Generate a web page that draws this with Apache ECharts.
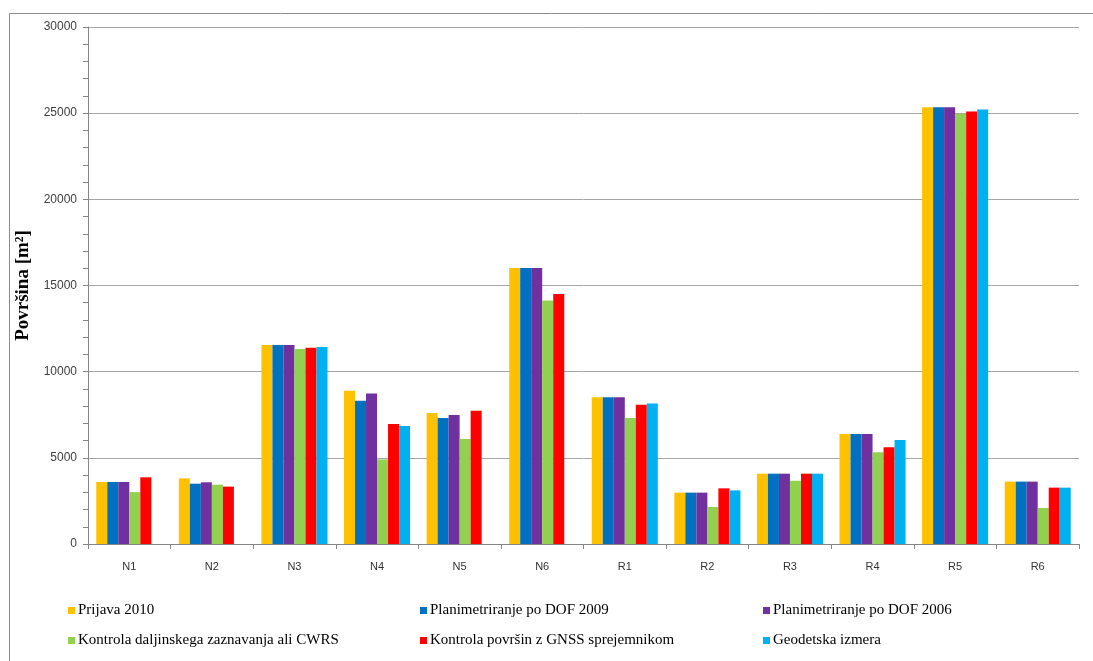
<!DOCTYPE html>
<html>
<head>
<meta charset="utf-8">
<script src="https://cdn.jsdelivr.net/npm/echarts@6/dist/echarts.min.js"></script>
<style>
  html, body { margin: 0; padding: 0; background: #fff; }
  #chart { width: 1093px; height: 661px; }
</style>
</head>
<body>
<div id="chart"></div>
<script>
// Parcel areas (m²) measured by six methods
const categories = ['N1', 'N2', 'N3', 'N4', 'N5', 'N6', 'R1', 'R2', 'R3', 'R4', 'R5', 'R6'];

const seriesNames = [
  'Prijava 2010',
  'Planimetriranje po DOF 2009',
  'Planimetriranje po DOF 2006',
  'Kontrola daljinskega zaznavanja ali CWRS',
  'Kontrola površin z GNSS sprejemnikom',
  'Geodetska izmera'
];

const prijava2010   = [3600, 3810, 11545, 8890, 7600, 16010, 8510, 2980, 4080, 6380, 25350, 3620];
const dof2009       = [3600, 3500, 11545, 8310, 7310, 16010, 8510, 2980, 4080, 6380, 25350, 3620];
const dof2006       = [3600, 3580, 11545, 8740, 7480, 16010, 8510, 2980, 4080, 6380, 25350, 3620];
const cwrs          = [3010, 3440, 11310, 4910, 6090, 14130, 7310, 2150, 3670, 5320, 24960, 2090];
const gnss          = [3870, 3330, 11390, 6960, 7730, 14500, 8080, 3230, 4080, 5610, 25100, 3270];
const geodetska     = [null, null, 11430, 6850, null, null, 8160, 3110, 4080, 6030, 25210, 3270];

const colors = ['#FFC000', '#0070C0', '#7030A0', '#92D050', '#FF0000', '#00B0F0'];
const seriesData = [prijava2010, dof2009, dof2006, cwrs, gnss, geodetska];

const chart = echarts.init(document.getElementById('chart'), null, { renderer: 'canvas' });

const legendBase = {
  orient: 'vertical',
  top: 598,
  itemWidth: 7,
  itemHeight: 7,
  itemGap: 15,
  icon: 'rect',
  selectedMode: false,
  textStyle: { fontFamily: 'Liberation Serif', fontSize: 15, color: '#000', padding: [0, 0, 0, -2] }
};

chart.setOption({
  animation: false,
  color: colors,
  graphic: [{
    type: 'rect',
    shape: { x: 9.5, y: 13.5, width: 1200, height: 700 },
    style: { fill: 'none', stroke: '#8c8c8c', lineWidth: 1 },
    silent: true
  }],
  grid: { left: 88, right: 14, top: 27, bottom: 117 },
  legend: [
    Object.assign({}, legendBase, { left: 63, data: [seriesNames[0], seriesNames[3]] }),
    Object.assign({}, legendBase, { left: 415, data: [seriesNames[1], seriesNames[4]] }),
    Object.assign({}, legendBase, { left: 758, data: [seriesNames[2], seriesNames[5]] })
  ],
  xAxis: {
    type: 'category',
    data: categories,
    axisLine: { lineStyle: { color: '#868686' } },
    axisTick: { show: true, length: 5, lineStyle: { color: '#868686' } },
    axisLabel: { fontFamily: 'Liberation Sans', fontSize: 11, color: '#333', margin: 17 }
  },
  yAxis: {
    type: 'value',
    min: 0,
    max: 30000,
    interval: 5000,
    name: 'Površina [m²]',
    nameLocation: 'middle',
    nameGap: 54,
    nameTextStyle: { fontFamily: 'Liberation Serif', fontSize: 19, fontWeight: 'bold', color: '#000' },
    axisLine: { show: true, lineStyle: { color: '#868686' } },
    axisTick: { show: true, length: 5, lineStyle: { color: '#868686' } },
    minorTick: { show: true, splitNumber: 5, length: 5, lineStyle: { color: '#868686' } },
    splitLine: { lineStyle: { color: '#a6a6a6', width: 1 } },
    axisLabel: {
      fontFamily: 'Liberation Sans', fontSize: 12, color: '#404040', margin: 11,
      formatter: (v) => String(v)
    }
  },
  series: seriesNames.map((name, i) => ({
    name: name,
    type: 'bar',
    data: seriesData[i],
    barGap: '0%',
    barCategoryGap: '20%',
    itemStyle: { color: colors[i] }
  }))
});
</script>
</body>
</html>
